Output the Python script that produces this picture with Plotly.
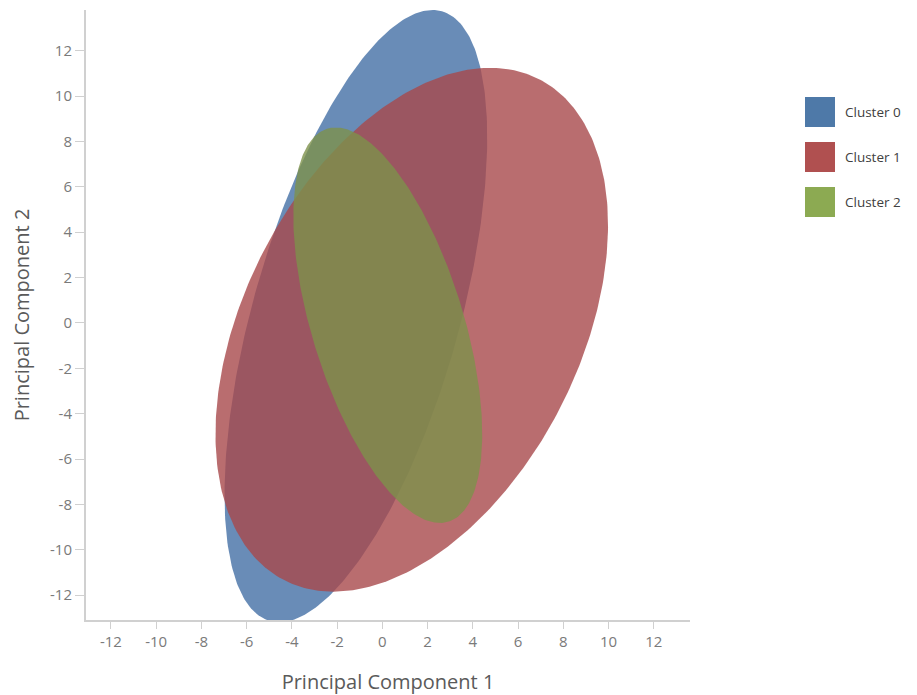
import numpy as np
import plotly.graph_objects as go

# ---- data ----
cluster_names = ["Cluster 0", "Cluster 1", "Cluster 2"]
center_x = [-1.17, 1.30, 0.24]
center_y = [0.30, -0.30, -0.10]
semi_major = [13.97, 12.40, 9.07]
semi_minor = [4.56, 7.41, 3.35]
angle_deg = [74.2, 63.0, 107.2]

legend_colors = ["#4E79A8", "#B05050", "#8CAA52"]
fill_colors = ["#446FA5", "#A8494B", "#7D914B"]

x_tick_values = [-12, -10, -8, -6, -4, -2, 0, 2, 4, 6, 8, 10, 12]
x_tick_labels = ["-12", "-10", "-8", "-6", "-4", "-2", "0", "2", "4", "6", "8", "10", "12"]
y_tick_values = [-12, -10, -8, -6, -4, -2, 0, 2, 4, 6, 8, 10, 12]
y_tick_labels = ["-12", "-10", "-8", "-6", "-4", "-2", "0", "2", "4", "6", "8", "10", "12"]

FONT = "Open Sans, Noto Sans, sans-serif"

fig = go.Figure()
t = np.linspace(0, 2 * np.pi, 361)
for name, cx, cy, a, b, ang, col in zip(cluster_names, center_x, center_y,
                                        semi_major, semi_minor, angle_deg, fill_colors):
    th = np.deg2rad(ang)
    ex = cx + a * np.cos(t) * np.cos(th) - b * np.sin(t) * np.sin(th)
    ey = cy + a * np.cos(t) * np.sin(th) + b * np.sin(t) * np.cos(th)
    fig.add_trace(go.Scatter(x=ex, y=ey, mode="lines", fill="toself",
                             fillcolor=col, opacity=0.8,
                             line=dict(width=0, color=col),
                             name=name, showlegend=False, hoverinfo="name"))

# page has an 8px body margin; figure sized to fit the 917x695 window
OFF = 8
W, H = 917 - OFF, 695 - OFF
ml, mr, mt, mb = 86 - OFF, 917 - 690, 10 - OFF, 695 - 620
pw, ph = W - ml - mr, H - mt - mb

def px(xp):
    return (xp - OFF - ml) / pw

def py(yp):
    return (H - mb - (yp - OFF)) / ph

shapes = []
annotations = []
for i, (name, col) in enumerate(zip(cluster_names, legend_colors)):
    yc = 112 + 45 * i
    shapes.append(dict(type="rect", xref="paper", yref="paper",
                       x0=px(805), x1=px(835), y0=py(yc + 15), y1=py(yc - 15),
                       fillcolor=col, line=dict(width=0)))
    annotations.append(dict(x=px(843), y=py(yc), xref="paper", yref="paper",
                            text=name, showarrow=False, xanchor="left",
                            yanchor="middle",
                            font=dict(family=FONT, size=13.5, color="#404040")))

axis_common = dict(showgrid=False, zeroline=False, showline=True,
                   linecolor="#D0D0D0", linewidth=2, ticks="outside",
                   tickcolor="#D0D0D0", tickwidth=1,
                   tickfont=dict(family=FONT, size=15, color="#7A7A7A"),
                   automargin=False)

fig.update_layout(
    width=W, height=H,
    margin=dict(l=ml, r=mr, t=mt, b=mb),
    paper_bgcolor="white", plot_bgcolor="white",
    showlegend=False,
    shapes=shapes, annotations=annotations,
    xaxis=dict(range=[-13.1, 13.6], tickvals=x_tick_values, ticktext=x_tick_labels,
               ticklen=7,
               title=dict(text="Principal Component 1", standoff=30,
                          font=dict(family=FONT, size=20, color="#5A5A5A")),
               **axis_common),
    yaxis=dict(range=[-13.1, 13.8], tickvals=y_tick_values, ticktext=y_tick_labels,
               ticklen=9,
               title=dict(text="Principal Component 2", standoff=20,
                          font=dict(family=FONT, size=20, color="#5A5A5A")),
               **axis_common),
)

fig.write_html("out.html")
